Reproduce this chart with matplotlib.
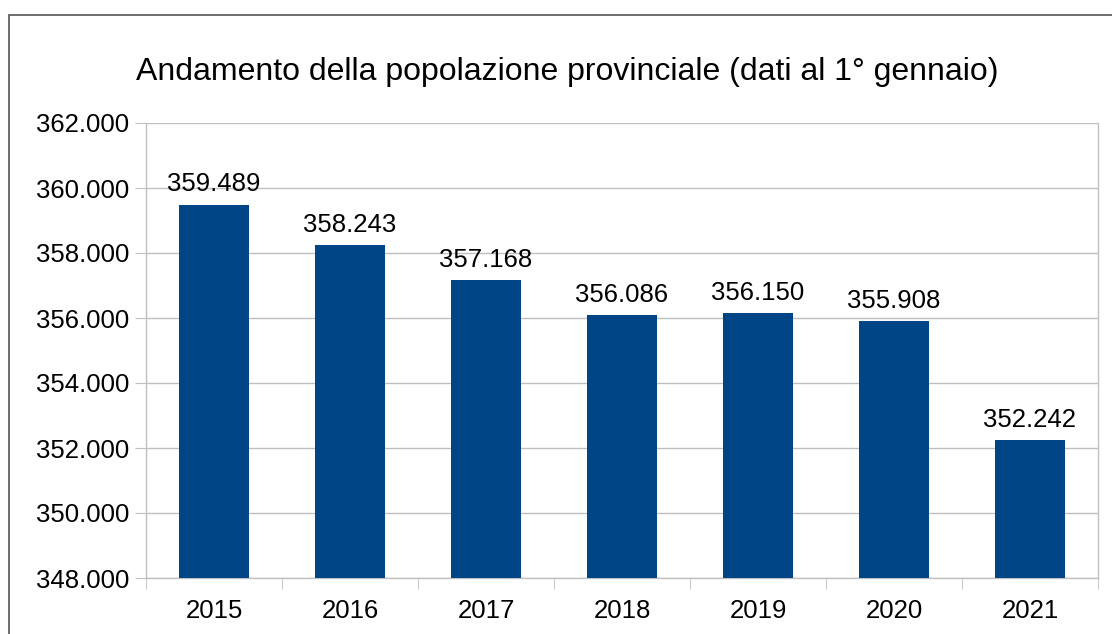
import numpy as np
import matplotlib
matplotlib.use("Agg")
import matplotlib.pyplot as plt
from matplotlib.patches import Rectangle
from matplotlib.ticker import FuncFormatter, FixedLocator

plt.rcParams['font.family'] = ['Liberation Sans', 'DejaVu Sans']

anni = ['2015', '2016', '2017', '2018', '2019', '2020', '2021']
popolazione = [359489, 358243, 357168, 356086, 356150, 355908, 352242]
yticks = [348000, 350000, 352000, 354000, 356000, 358000, 360000, 362000]

def fmt_it(v, pos=None):
    return '{:,.0f}'.format(v).replace(',', '.')

fig = plt.figure(figsize=(11.12, 6.34), dpi=100)
ax = fig.add_axes([146/1112, 1 - 578/634, (1098 - 146)/1112, (578 - 123)/634])

x = np.arange(len(anni))
ax.bar(x, popolazione, width=0.515, color='#004586', zorder=3)

for xi, v in zip(x, popolazione):
    ax.annotate(fmt_it(v), (xi, v), xytext=(0, 6), textcoords='offset points',
                ha='center', va='bottom', fontsize=18.5, color='black')

ax.set_ylim(348000, 362000)
ax.set_xlim(-0.5, len(anni) - 0.5)
ax.set_yticks(yticks)
ax.yaxis.set_major_formatter(FuncFormatter(fmt_it))
ax.set_xticks(x)
ax.set_xticklabels(anni)
ax.xaxis.set_minor_locator(FixedLocator(np.arange(len(anni) + 1) - 0.5))

ax.grid(axis='y', color='#c0c0c0', linewidth=1, zorder=0)
for s in ax.spines.values():
    s.set_color('#c0c0c0')
    s.set_linewidth(1)
ax.spines['top'].set_visible(False)

ax.tick_params(axis='y', which='major', length=8, color='#c0c0c0', labelsize=18.5, pad=4)
ax.tick_params(axis='x', which='major', length=0, labelsize=18.5, pad=15)
ax.tick_params(axis='x', which='minor', length=8, color='#c0c0c0')

fig.text(567/1112, 1 - 72/634, 'Andamento della popolazione provinciale (dati al 1° gennaio)',
         ha='center', va='center', fontsize=23)

fig.patches.append(Rectangle((9/1112, -0.1), 1.2, 1 - 15/634 + 0.1, transform=fig.transFigure,
                             fill=False, edgecolor='#555555', linewidth=1.2, clip_on=False))

fig.savefig('out.png', dpi=100)
